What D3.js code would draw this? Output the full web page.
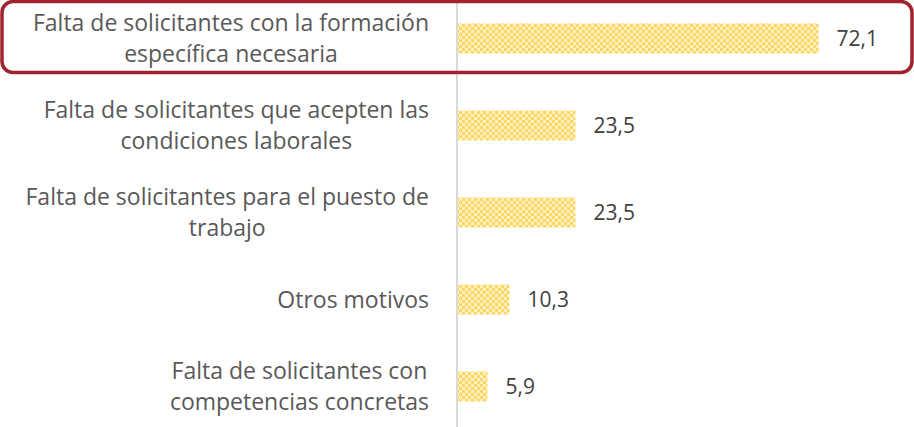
<!DOCTYPE html>
<html>
<head>
<meta charset="utf-8">
<script src="https://cdn.jsdelivr.net/npm/d3@7"></script>
<style>
  body { margin: 0; background: #fff; }
  svg { display: block; }
</style>
</head>
<body>
<svg id="chart"></svg>
<script>
var width = 914
var height = 427

// data
var categories = [
  "Falta de solicitantes con la formación|específica necesaria",
  "Falta de solicitantes que acepten las|condiciones laborales",
  "Falta de solicitantes para el puesto de|trabajo",
  "Otros motivos",
  "Falta de solicitantes con|competencias concretas"
]
var values = [72.1, 23.5, 23.5, 10.3, 5.9]
var highlighted = [0]  // row boxed in red

var data = categories.map(function(c, i){ return { cat: c, val: values[i] } })

var svg = d3.select("#chart")
  .attr("width", width)
  .attr("height", height)

// checker pattern for the bars
var defs = svg.append("defs")
var pat = defs.append("pattern")
  .attr("id", "checker")
  .attr("patternUnits", "userSpaceOnUse")
  .attr("width", 6).attr("height", 6)
pat.append("rect").attr("width", 6).attr("height", 6).attr("fill", "#fff0c4")
pat.append("rect").attr("width", 3).attr("height", 3).attr("fill", "#fcd762")
pat.append("rect").attr("x", 3).attr("y", 3).attr("width", 3).attr("height", 3).attr("fill", "#fcd762")

var x = d3.scaleLinear()
  .domain([0, 80])
  .range([458, 858])

var y = d3.scaleBand()
  .domain(categories)
  .range([-5, 430])

var barH = 30
var fmt = d3.formatLocale({ decimal: ",", thousands: ".", grouping: [3], currency: ["", "€"] }).format(".1f")

// vertical axis line
svg.append("line")
  .attr("x1", x(0) - 1).attr("x2", x(0) - 1)
  .attr("y1", 0).attr("y2", height)
  .attr("stroke", "#d9d9d9")
  .attr("stroke-width", 2)

svg.selectAll("rect.bar")
  .data(data)
  .enter()
  .append("rect")
  .attr("class", "bar")
  .attr("x", x(0))
  .attr("y", d => y(d.cat) + y.bandwidth() / 2 - barH / 2)
  .attr("width", d => x(d.val) - x(0))
  .attr("height", barH)
  .attr("fill", "url(#checker)")

svg.selectAll("text.val")
  .data(data)
  .enter()
  .append("text")
  .attr("class", "val")
  .attr("x", d => x(d.val) + 18)
  .attr("y", d => y(d.cat) + y.bandwidth() / 2)
  .attr("dy", "0.35em")
  .attr("font-family", "'Open Sans', sans-serif")
  .attr("font-size", 21)
  .attr("fill", "#404040")
  .text(d => fmt(d.val))

// category labels, multi-line, centred lines, right edge near the axis
var rightEdge = 429
var lineH = 31
svg.selectAll("g.lab")
  .data(data)
  .enter()
  .append("g")
  .attr("class", "lab")
  .each(function(d){
    var g = d3.select(this)
    var lines = d.cat.split("|")
    var cy = y(d.cat) + y.bandwidth() / 2
    var t = g.append("text")
      .attr("font-family", "'Open Sans', sans-serif")
      .attr("font-size", 23)
      .attr("fill", "#595959")
      .attr("text-anchor", "middle")
    lines.forEach(function(l, i){
      t.append("tspan")
        .attr("y", cy + (i - (lines.length - 1) / 2) * lineH)
        .attr("dy", "0.35em")
        .text(l)
    })
    var maxW = 0
    t.selectAll("tspan").each(function(){ maxW = Math.max(maxW, this.getComputedTextLength()) })
    t.selectAll("tspan").attr("x", rightEdge - maxW / 2)
  })

// red rounded box around the highlighted row
highlighted.forEach(function(i){
  var cy = y(categories[i]) + y.bandwidth() / 2
  svg.append("rect")
    .attr("x", 2).attr("y", cy - 37)
    .attr("width", width - 4).attr("height", 71)
    .attr("rx", 11).attr("ry", 11)
    .attr("fill", "none")
    .attr("stroke", "#a0232e")
    .attr("stroke-width", 3.5)
})
</script>
</body>
</html>
